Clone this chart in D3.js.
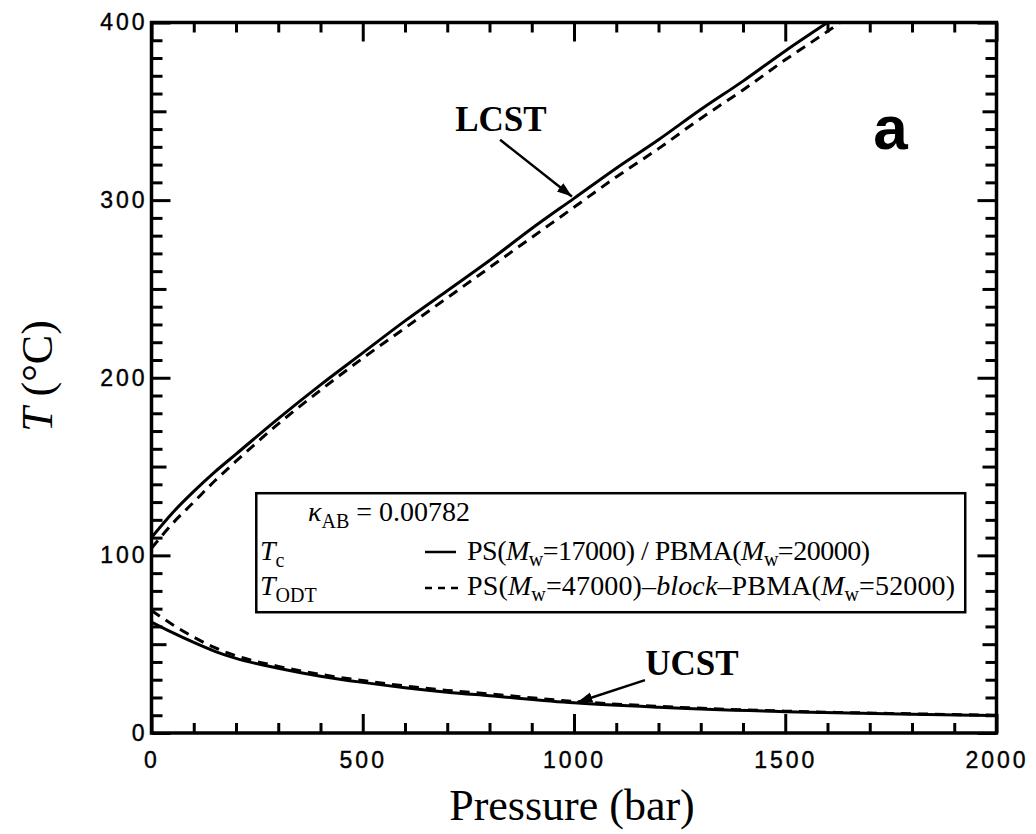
<!DOCTYPE html>
<html>
<head>
<meta charset="utf-8">
<script src="https://cdn.jsdelivr.net/npm/d3@7"></script>
<style>
  body { margin: 0; background: #fff; }
  .tick-label text { font-family: "Liberation Sans", Arial, sans-serif; font-size: 23px; letter-spacing: 3px; fill: #000; stroke: #000; stroke-width: 0.4px; }
  .serif { font-family: "Liberation Serif", "Times New Roman", serif; fill: #000; }
</style>
</head>
<body>
<svg id="chart"></svg>
<script>
// chart data
const lcstPressure = [0, 50, 100, 150, 200, 300, 400, 500, 600, 700, 800, 900, 1000, 1100, 1200, 1300, 1400, 1500, 1600];
const lcstTc = [110, 124, 136, 147, 157, 177, 196, 214, 232, 249, 266, 284, 301, 318, 334, 351, 367, 384, 400];
const lcstOdtPressure = [0, 50, 100, 150, 200, 300, 400, 500, 600, 700, 800, 900, 1000, 1100, 1200, 1300, 1400, 1500, 1600, 1630];
const lcstOdt = [104, 118, 130, 142, 153, 174, 193, 211, 228, 245, 262, 279, 296, 313, 329, 346, 362, 379, 395, 400];
const ucstPressure = [0, 50, 100, 150, 200, 300, 400, 500, 600, 700, 800, 1000, 1200, 1500, 1800, 2000];
const ucstTc = [62.5, 56.5, 51, 46, 42, 36.5, 32, 28.5, 25.5, 23, 21, 17, 14.5, 12, 10.5, 9.8];
const ucstOdt = [69, 61, 54, 48, 43.5, 37.5, 33, 29.5, 26.5, 24, 22, 17.8, 15, 12.3, 10.8, 10];

const xTicks = [0, 500, 1000, 1500, 2000];
const yTicks = [0, 100, 200, 300, 400];

const width = 1036, height = 834;
const svg = d3.select("#chart").attr("width", width).attr("height", height);

const x = d3.scaleLinear().domain([0, 2000]).range([151.5, 996.5]);
const y = d3.scaleLinear().domain([0, 400]).range([733, 22.5]);

const x0 = x.range()[0], x1 = x.range()[1];
const y0 = y.range()[0], y1 = y.range()[1];

const defs = svg.append("defs");
defs.append("clipPath").attr("id", "plotclip")
  .append("rect").attr("x", x0).attr("y", y1).attr("width", x1 - x0).attr("height", y0 - y1);

// ticks: a few axes with different lengths, all pointing inward
function scaleFor(axisFn) {
  return (axisFn === d3.axisBottom || axisFn === d3.axisTop) ? x : y;
}
function drawAxis(axisFn, transform, values, len, labels, pad) {
  const a = axisFn(scaleFor(axisFn)).tickValues(values).tickSize(-len).tickPadding(pad || 0);
  a.tickFormat(labels ? d3.format("d") : "");
  const g = svg.append("g").attr("transform", transform).call(a);
  if (labels) g.attr("class", "tick-label");
  g.select(".domain").remove();
  g.selectAll(".tick line").attr("stroke", "#000").attr("stroke-width", 3);
  return g;
}

const xMinor = d3.range(0, 2001, 100).filter(v => v % 500 !== 0);
const yMinor = d3.range(0, 401, 10).filter(v => v % 50 !== 0);
const yMid = d3.range(50, 400, 100);

// bottom
drawAxis(d3.axisBottom, `translate(0,${y0})`, xMinor, 10);
drawAxis(d3.axisBottom, `translate(0,${y0})`, xTicks, 19, true, 19);
// top
drawAxis(d3.axisTop, `translate(0,${y1})`, xMinor, 10);
drawAxis(d3.axisTop, `translate(0,${y1})`, xTicks, 19);
// left
drawAxis(d3.axisLeft, `translate(${x0},0)`, yMinor, 11);
drawAxis(d3.axisLeft, `translate(${x0},0)`, yMid, 15);
drawAxis(d3.axisLeft, `translate(${x0},0)`, yTicks, 19, true, 4);
// right
drawAxis(d3.axisRight, `translate(${x1},0)`, yMinor, 11);
drawAxis(d3.axisRight, `translate(${x1},0)`, yMid, 14);
drawAxis(d3.axisRight, `translate(${x1},0)`, yTicks, 19);

svg.append("rect")
  .attr("x", x0).attr("y", y1).attr("width", x1 - x0).attr("height", y0 - y1)
  .attr("fill", "none").attr("stroke", "#000").attr("stroke-width", 3.5);

// curves
const line = d3.line().x(d => x(d[0])).y(d => y(d[1])).curve(d3.curveMonotoneX);
const curves = svg.append("g").attr("clip-path", "url(#plotclip)");
function drawCurve(ps, ts, dashed) {
  curves.append("path")
    .datum(d3.zip(ps, ts))
    .attr("d", line)
    .attr("fill", "none")
    .attr("stroke", "#000")
    .attr("stroke-width", 3)
    .attr("stroke-dasharray", dashed ? "10,7" : null);
}
drawCurve(lcstPressure, lcstTc, false);
drawCurve(lcstOdtPressure, lcstOdt, true);
drawCurve(ucstPressure, ucstTc, false);
drawCurve(ucstPressure, ucstOdt, true);

// annotations with arrows
defs.append("marker").attr("id", "arrow")
  .attr("viewBox", "0 0 10 10").attr("refX", 10).attr("refY", 5)
  .attr("markerWidth", 6).attr("markerHeight", 6).attr("orient", "auto")
  .attr("markerUnits", "strokeWidth")
  .append("path").attr("d", "M0,1.5 L10,5 L0,8.5 z").attr("fill", "#000");

function arrow(p0, t0, p1, t1) {
  svg.append("line")
    .attr("x1", x(p0)).attr("y1", y(t0)).attr("x2", x(p1)).attr("y2", y(t1))
    .attr("stroke", "#000").attr("stroke-width", 2.5)
    .attr("marker-end", "url(#arrow)");
}
svg.append("text").attr("class", "serif")
  .attr("x", x(827)).attr("y", y(339)).attr("text-anchor", "middle")
  .attr("font-size", 35).attr("font-weight", "bold").text("LCST");
arrow(825, 334, 995, 302);

svg.append("text").attr("class", "serif")
  .attr("x", x(1279)).attr("y", y(32.7)).attr("text-anchor", "middle")
  .attr("font-size", 35).attr("font-weight", "bold").text("UCST");
arrow(1168, 29.8, 1008, 17.3);

svg.append("text")
  .attr("x", x(1708)).attr("y", y(329))
  .attr("font-family", "Liberation Sans, Arial, sans-serif")
  .attr("font-size", 62).attr("font-weight", "bold").text("a");

// legend
const lg = svg.append("g");
lg.append("rect")
  .attr("x", x(248)).attr("y", y(135))
  .attr("width", x(1926) - x(248)).attr("height", y(68) - y(135))
  .attr("fill", "#fff").attr("stroke", "#000").attr("stroke-width", 2.5);

const fs = 28, sub = 20;
const r1 = lg.append("text").attr("class", "serif").attr("font-size", fs)
  .attr("x", 308).attr("y", 521);
r1.append("tspan").attr("font-style", "italic").text("κ");
r1.append("tspan").attr("font-size", sub).attr("dy", 7).text("AB");
r1.append("tspan").attr("dy", -7).text(" = 0.00782");

function symbolRow(yb, sym, subTxt) {
  const t = lg.append("text").attr("class", "serif").attr("font-size", fs)
    .attr("x", 260).attr("y", yb);
  t.append("tspan").attr("font-style", "italic").text(sym);
  t.append("tspan").attr("font-size", sub).attr("dy", 7).text(subTxt);
}
symbolRow(560, "T", "c");
symbolRow(595, "T", "ODT");

lg.append("line").attr("x1", 425).attr("x2", 456).attr("y1", 552).attr("y2", 552)
  .attr("stroke", "#000").attr("stroke-width", 2.5);
lg.append("line").attr("x1", 425).attr("x2", 459).attr("y1", 588).attr("y2", 588)
  .attr("stroke", "#000").attr("stroke-width", 2.5).attr("stroke-dasharray", "7,6");

function mwText(t, num) {
  t.append("tspan").text("(");
  t.append("tspan").attr("font-style", "italic").text("M");
  t.append("tspan").attr("font-size", sub).attr("dy", 6).text("w");
  t.append("tspan").attr("dy", -6).text("=" + num + ")");
}
const r2 = lg.append("text").attr("class", "serif").attr("font-size", fs)
  .attr("x", 467).attr("y", 560).attr("textLength", 403);
r2.append("tspan").text("PS");
mwText(r2, "17000");
r2.append("tspan").text(" / PBMA");
mwText(r2, "20000");

const r3 = lg.append("text").attr("class", "serif").attr("font-size", fs)
  .attr("x", 467).attr("y", 595).attr("textLength", 488);
r3.append("tspan").text("PS");
mwText(r3, "47000");
r3.append("tspan").text("–");
r3.append("tspan").attr("font-style", "italic").text("block");
r3.append("tspan").text("–PBMA");
mwText(r3, "52000");

// axis titles
svg.append("text").attr("class", "serif")
  .attr("x", (x0 + x1) / 2 - 2).attr("y", 820).attr("text-anchor", "middle")
  .attr("font-size", 44).text("Pressure (bar)");

const yt = svg.append("text").attr("class", "serif")
  .attr("transform", `translate(52,${376}) rotate(-90)`)
  .attr("text-anchor", "middle").attr("font-size", 44);
yt.append("tspan").attr("font-style", "italic").text("T");
yt.append("tspan").text(" (°C)");
</script>
</body>
</html>
